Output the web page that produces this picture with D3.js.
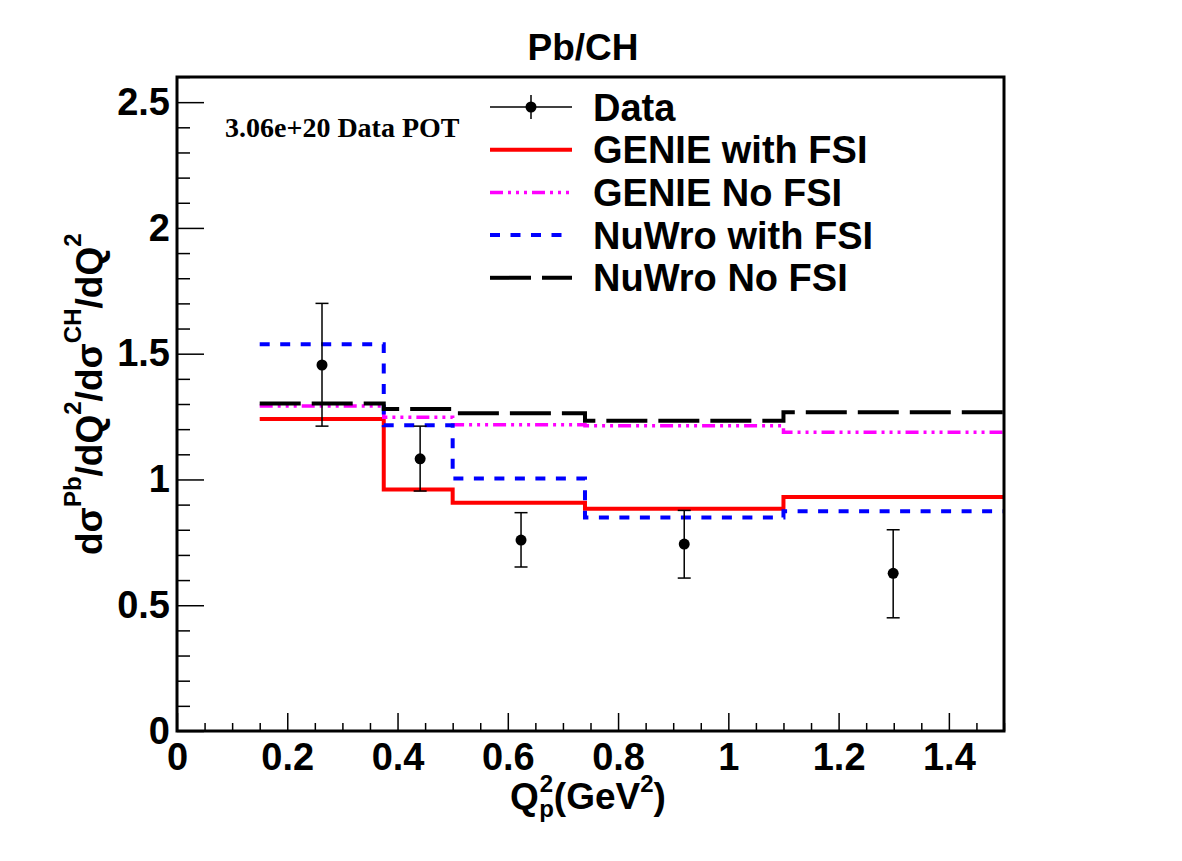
<!DOCTYPE html>
<html>
<head>
<meta charset="utf-8">
<script src="https://cdn.jsdelivr.net/npm/d3@7"></script>
<style>
body { margin: 0; background: #fff; }
svg text { font-family: 'Liberation Sans', Arial, sans-serif; font-weight: bold; fill: #000; }
</style>
</head>
<body>
<svg id="chart" width="1182" height="861"></svg>
<script>
// histogram bin edges (Q2 in GeV^2) and ratio per bin
const binEdges = [0.15, 0.375, 0.5, 0.74, 1.1, 1.5];
const genieFsi = [1.24, 0.96, 0.907, 0.884, 0.93];
const genieNoFsi = [1.292, 1.247, 1.218, 1.214, 1.188];
const nuwroFsi = [1.538, 1.216, 1.004, 0.849, 0.874];
const nuwroNoFsi = [1.302, 1.28, 1.263, 1.233, 1.267];

// data points with error bars
const dataX = [0.263, 0.441, 0.624, 0.92, 1.299];
const dataY = [1.455, 1.082, 0.759, 0.743, 0.627];
const dataLo = [1.212, 0.954, 0.652, 0.608, 0.45];
const dataHi = [1.7, 1.212, 0.868, 0.877, 0.8];

const xTicks = [0, 0.2, 0.4, 0.6, 0.8, 1, 1.2, 1.4];
const yTicks = [0, 0.5, 1, 1.5, 2, 2.5];
const legendLabels = ['Data', 'GENIE with FSI', 'GENIE No FSI', 'NuWro with FSI', 'NuWro No FSI'];

const series = [
	{ values: genieFsi, color: '#ff0000', dash: null, width: 4 },
	{ values: genieNoFsi, color: '#ff00ff', dash: '13,5,3,5,3,5,3,5', width: 3.5 },
	{ values: nuwroFsi, color: '#0000ff', dash: '10,10.5', width: 4 },
	{ values: nuwroNoFsi, color: '#000000', dash: '41,11', width: 4 }
];

const W = 1182;
const H = 861;
const margin = { top: 77, right: 178, bottom: 130, left: 177 };
const FS = 38;

const $svg = d3.select('#chart');
const $g = $svg.append('g');

const x = d3.scaleLinear().domain([0, 1.5]).range([margin.left, W - margin.right]);
const y = d3.scaleLinear().domain([0, 2.6]).range([H - margin.bottom, margin.top]);

function styleAxis($a) {
	$a.select('.domain').remove();
	$a.selectAll('line').attr('stroke', '#000').attr('stroke-width', 1.5);
	$a.attr('font-size', null).attr('font-family', null);
	$a.selectAll('text').attr('font-size', FS);
}

function drawAxes() {
	const xMinor = d3.range(0, 1.5001, 0.05).filter(v => Math.abs(v / 0.2 - Math.round(v / 0.2)) > 1e-6);
	const yMinor = d3.range(0, 2.6001, 0.1).filter(v => Math.abs(v / 0.5 - Math.round(v / 0.5)) > 1e-6);

	$g.append('g')
		.attr('transform', `translate(0,${y(0)})`)
		.call(d3.axisBottom(x).tickValues(xMinor).tickSize(-8).tickFormat(''))
		.call(styleAxis);
	$g.append('g')
		.attr('transform', `translate(0,${y(0)})`)
		.call(d3.axisBottom(x).tickValues(xTicks).tickSize(-18).tickPadding(12).tickFormat(d3.format('')))
		.call(styleAxis);

	$g.append('g')
		.attr('transform', `translate(${x(0)},0)`)
		.call(d3.axisLeft(y).tickValues(yMinor).tickSize(-13).tickFormat(''))
		.call(styleAxis);
	$g.append('g')
		.attr('transform', `translate(${x(0)},0)`)
		.call(d3.axisLeft(y).tickValues(yTicks).tickSize(-27).tickPadding(7).tickFormat(d3.format('')))
		.call(styleAxis);

	// frame
	$g.append('rect')
		.attr('x', x(0))
		.attr('y', y(2.6))
		.attr('width', x(1.5) - x(0))
		.attr('height', y(0) - y(2.6))
		.attr('fill', 'none')
		.attr('stroke', '#000')
		.attr('stroke-width', 3);
}

function drawHists() {
	const line = d3.line()
		.x(d => x(d[0]))
		.y(d => y(d[1]))
		.curve(d3.curveStepAfter);

	series.forEach(s => {
		const pts = s.values.map((v, i) => [binEdges[i], v]);
		pts.push([binEdges[binEdges.length - 1], s.values[s.values.length - 1]]);
		$g.append('path')
			.datum(pts)
			.attr('d', line)
			.attr('fill', 'none')
			.attr('stroke', s.color)
			.attr('stroke-width', s.width)
			.attr('stroke-dasharray', s.dash);
	});
}

function drawData() {
	const pts = dataX.map((v, i) => ({ x: v, y: dataY[i], lo: dataLo[i], hi: dataHi[i] }));
	const $pt = $g.selectAll('.pt').data(pts).enter().append('g').attr('class', 'pt');
	$pt.append('line')
		.attr('x1', d => x(d.x)).attr('x2', d => x(d.x))
		.attr('y1', d => y(d.lo)).attr('y2', d => y(d.hi))
		.attr('stroke', '#000').attr('stroke-width', 1.5);
	[d => d.lo, d => d.hi].forEach(f => {
		$pt.append('line')
			.attr('x1', d => x(d.x) - 6.5).attr('x2', d => x(d.x) + 6.5)
			.attr('y1', d => y(f(d))).attr('y2', d => y(f(d)))
			.attr('stroke', '#000').attr('stroke-width', 1.5);
	});
	$pt.append('circle')
		.attr('cx', d => x(d.x)).attr('cy', d => y(d.y))
		.attr('r', 5.5).attr('fill', '#000');
}

function drawLegend() {
	const lx0 = 490;
	const lx1 = 572;
	const $leg = $g.append('g');
	legendLabels.forEach((lab, i) => {
		const cy = 107 + i * 42.7;
		if (i === 0) {
			$leg.append('line').attr('x1', lx0).attr('x2', lx1).attr('y1', cy).attr('y2', cy)
				.attr('stroke', '#000').attr('stroke-width', 1.5);
			$leg.append('line').attr('x1', 531).attr('x2', 531).attr('y1', cy - 12).attr('y2', cy + 12)
				.attr('stroke', '#000').attr('stroke-width', 1.5);
			$leg.append('circle').attr('cx', 531).attr('cy', cy).attr('r', 5.5).attr('fill', '#000');
		} else {
			const s = series[i - 1];
			$leg.append('line').attr('x1', lx0).attr('x2', lx1).attr('y1', cy).attr('y2', cy)
				.attr('stroke', s.color).attr('stroke-width', s.width)
				.attr('stroke-dasharray', s.dash);
		}
		$leg.append('text')
			.attr('x', 593).attr('y', cy).attr('dy', '0.36em')
			.attr('font-size', FS)
			.text(lab);
	});
}

function drawLabels() {
	$svg.append('text')
		.attr('x', 583).attr('y', 60)
		.attr('text-anchor', 'middle')
		.attr('font-size', 37)
		.text('Pb/CH');

	$svg.append('text')
		.attr('x', 225).attr('y', 137)
		.attr('font-size', 28)
		.style('font-family', "'Liberation Serif', 'Times New Roman', serif")
		.text('3.06e+20 Data POT');

	// x title: Q^2_p(GeV^2)
	const sub = 24;
	const $xt = $svg.append('text')
		.attr('x', 510).attr('y', 809)
		.attr('font-size', 37);
	$xt.append('tspan').text('Q');
	$xt.append('tspan').attr('font-size', sub).attr('dy', -17).attr('dx', 1).text('2');
	$xt.append('tspan').attr('font-size', sub).attr('dx', -14).attr('dy', 25).text('p');
	$xt.append('tspan').attr('dy', -8).text('(GeV');
	$xt.append('tspan').attr('font-size', sub).attr('dy', -17).text('2');
	$xt.append('tspan').attr('dy', 17).text(')');

	// y title: dσ^Pb/dQ^2/dσ^CH/dQ^2
	const $yt = $svg.append('text')
		.attr('transform', 'translate(102,555) rotate(-90)')
		.attr('font-size', 37);
	const parts = [['dσ', 0], ['Pb', 1], ['/dQ', 0], ['2', 1], ['/dσ', 0], ['CH', 1], ['/dQ', 0], ['2', 1]];
	parts.forEach(([t, up]) => {
		$yt.append('tspan')
			.attr('font-size', up ? sub : null)
			.attr('dy', up ? -21 : 21)
			.text(t);
	});
	// first tspan should not shift
	$yt.select('tspan').attr('dy', 0);
}

drawHists();
drawData();
drawAxes();
drawLegend();
drawLabels();
</script>
</body>
</html>
